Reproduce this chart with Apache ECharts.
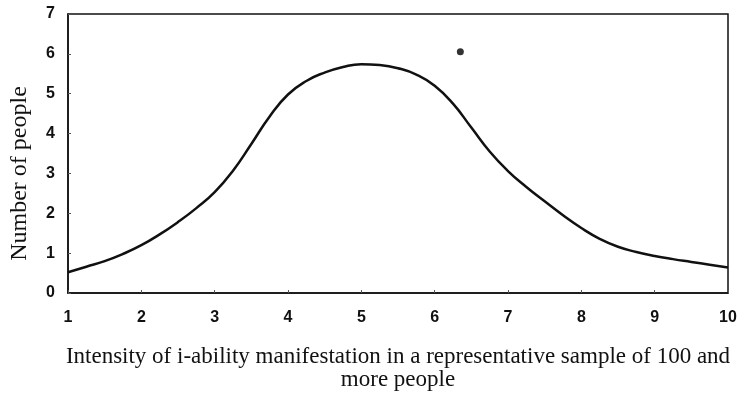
<!DOCTYPE html>
<html>
<head>
<meta charset="utf-8">
<script src="https://cdn.jsdelivr.net/npm/echarts@6/dist/echarts.min.js"></script>
<style>html,body{margin:0;padding:0;background:#fff}#c{width:740px;height:400px}</style>
</head>
<body>
<div id="c"></div>
<script>
const curveX = [1, 1.25, 1.5, 1.75, 2, 2.25, 2.5, 2.75, 3, 3.25, 3.5, 3.75, 4, 4.25, 4.5, 4.75, 5, 5.25, 5.5, 5.75, 6, 6.25, 6.5, 6.75, 7, 7.25, 7.5, 7.75, 8, 8.25, 8.5, 8.75, 9, 9.25, 9.5, 9.75, 10];
const curveY = [0.52, 0.66, 0.8, 0.98, 1.2, 1.47, 1.78, 2.13, 2.53, 3.07, 3.74, 4.43, 4.98, 5.32, 5.53, 5.67, 5.74, 5.72, 5.64, 5.48, 5.2, 4.75, 4.15, 3.55, 3.06, 2.66, 2.3, 1.95, 1.63, 1.36, 1.16, 1.03, 0.93, 0.85, 0.78, 0.71, 0.64];
const dotPoint = [6.35, 6.05];
const xTitle = 'Intensity of i-ability manifestation in a representative sample of 100 and\nmore people';
const yTitle = 'Number of people';

const chart = echarts.init(document.getElementById('c'), null, {renderer: 'canvas'});
chart.setOption({
  animation: false,
  backgroundColor: '#fff',
  grid: {left: 63, right: 12, top: 14, bottom: 107, show: true, borderColor: '#111', borderWidth: 1.5, backgroundColor: 'transparent'},
  xAxis: {
    type: 'value', min: 1, max: 10, interval: 1,
    axisLine: {show: true, lineStyle: {color: '#111', width: 1.5}},
    axisTick: {show: true, inside: true, length: 3, lineStyle: {color: '#555'}},
    splitLine: {show: false},
    axisLabel: {color: '#111', fontFamily: '"Liberation Sans Narrow", "Liberation Sans", Arial', fontWeight: 'bold', fontSize: 16, margin: 17},
    name: xTitle, nameLocation: 'middle', nameGap: 52,
    nameTextStyle: {color: '#111', fontFamily: '"Liberation Serif", "Times New Roman"', fontSize: 23, lineHeight: 23}
  },
  yAxis: {
    type: 'value', min: 0, max: 7, interval: 1,
    axisLine: {show: true, lineStyle: {color: '#111', width: 1.5}},
    axisTick: {show: true, inside: true, length: 3, lineStyle: {color: '#555'}},
    splitLine: {show: false},
    axisLabel: {color: '#111', fontFamily: '"Liberation Sans Narrow", "Liberation Sans", Arial', fontWeight: 'bold', fontSize: 16, margin: 13},
    name: yTitle, nameLocation: 'middle', nameGap: 36, nameRotate: 90,
    nameTextStyle: {color: '#111', fontFamily: '"Liberation Serif", "Times New Roman"', fontSize: 24, padding: [0, 40, 0, 0]}
  },
  series: [
    {type: 'line', data: curveX.map((x, i) => [x, curveY[i]]), smooth: 0.5, showSymbol: false,
     lineStyle: {color: '#111', width: 2.5}},
    {type: 'scatter', data: [dotPoint], symbolSize: 7, itemStyle: {color: '#000'}}
  ]
});
</script>
</body>
</html>
